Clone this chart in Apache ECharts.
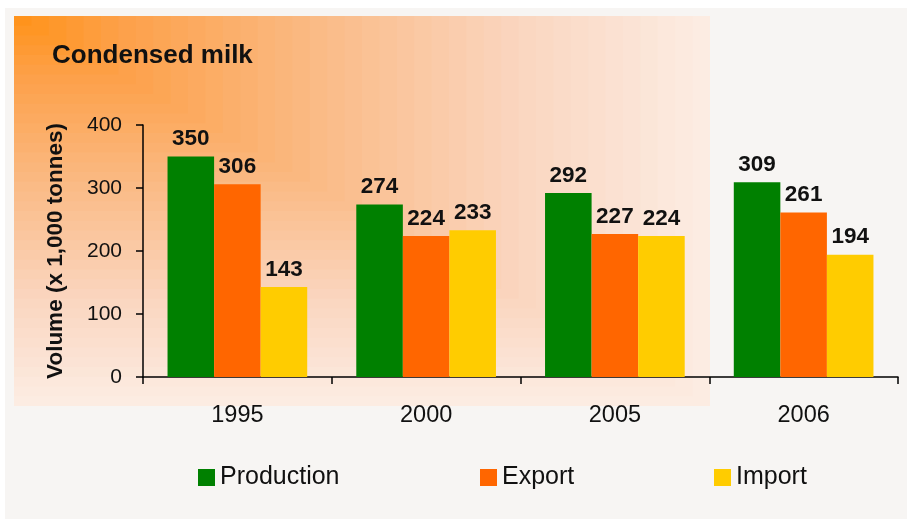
<!DOCTYPE html>
<html><head><meta charset="utf-8">
<script src="https://cdn.jsdelivr.net/npm/echarts@6/dist/echarts.min.js"></script>
<style>html,body{margin:0;padding:0;background:#fff}#c{width:907px;height:519px}</style>
</head><body><div id="c"></div>
<script>
const categories = ['1995', '2000', '2005', '2006'];
const production = [350, 274, 292, 309];
const exportVals = [306, 224, 227, 261];
const importVals = [143, 233, 224, 194];
const yTicks = [0, 100, 200, 300, 400];
const seriesNames = ['Production', 'Export', 'Import'];

const ARIAL = '"Liberation Sans", Arial, sans-serif';

// box-shaped background gradient (decoration)
const stops = [
  [0.00, [255, 146, 24]],
  [0.15, [253, 160, 72]],
  [0.43, [250, 186, 132]],
  [0.73, [250, 214, 192]],
  [1.00, [252, 237, 228]]
];
function colorAt(d) {
  for (let i = 1; i < stops.length; i++) {
    if (d <= stops[i][0]) {
      const a = stops[i - 1], b = stops[i];
      const t = (d - a[0]) / (b[0] - a[0]);
      const c = a[1].map((v, k) => Math.round(v + (b[1][k] - v) * t));
      return 'rgb(' + c.join(',') + ')';
    }
  }
  return 'rgb(' + stops[stops.length - 1][1].join(',') + ')';
}
const graphics = [{
  type: 'rect', shape: { x: 5, y: 8, width: 902, height: 511 },
  style: { fill: '#f7f5f3' }, z: -100, silent: true
}];
const N = 40, X0 = 14, Y0 = 16, W = 696, H = 390;
for (let i = 0; i < N; i++) {
  const d = 1 - i / N;
  graphics.push({
    type: 'rect', shape: { x: X0, y: Y0, width: W * d, height: H * d },
    style: { fill: colorAt(d - 0.5 / N) }, z: -90 + i, silent: true
  });
}

const colors = ['#008000', '#ff6600', '#ffcc00'];
const dataSets = [production, exportVals, importVals];

const chart = echarts.init(document.getElementById('c'), null, { renderer: 'canvas' });
chart.setOption({
  animation: false,
  backgroundColor: '#ffffff',
  graphic: { elements: graphics },
  title: {
    text: 'Condensed milk', left: 47, top: 38,
    textStyle: { fontFamily: ARIAL, fontWeight: 'bold', fontSize: 26, color: '#111' }
  },
  legend: seriesNames.map((n, i) => ({
    data: [n], left: [193, 475, 709][i], top: 460,
    icon: 'rect', itemWidth: 17, itemHeight: 17, itemGap: 0,
    textStyle: { fontFamily: ARIAL, fontSize: 25, color: '#111' },
    selectedMode: false
  })),
  grid: { left: 143, right: 9, top: 125, bottom: 142, containLabel: false },
  xAxis: {
    type: 'category', data: categories,
    axisLine: { lineStyle: { color: '#000', width: 1.5 } },
    axisTick: { show: true, length: 7, lineStyle: { color: '#000', width: 1.5 } },
    axisLabel: { margin: 27, fontFamily: ARIAL, fontSize: 23.5, color: '#111' }
  },
  yAxis: {
    type: 'value', min: yTicks[0], max: yTicks[yTicks.length - 1], interval: yTicks[1] - yTicks[0],
    name: 'Volume (x 1,000 tonnes)', nameLocation: 'middle', nameGap: 76,
    nameTextStyle: { fontFamily: ARIAL, fontWeight: 'bold', fontSize: 22.5, color: '#111' },
    axisLine: { show: true, lineStyle: { color: '#000', width: 1.5 } },
    axisTick: { show: true, length: 7, lineStyle: { color: '#000', width: 1.5 } },
    axisLabel: { margin: 21, fontFamily: ARIAL, fontSize: 21, color: '#111' },
    splitLine: { show: false }
  },
  series: seriesNames.map((n, i) => ({
    name: n, type: 'bar', data: dataSets[i],
    barGap: '0%', barCategoryGap: '26%',
    itemStyle: { color: colors[i] },
    label: {
      show: true, position: 'top', distance: 6,
      fontFamily: ARIAL, fontWeight: 'bold', fontSize: 22.5, color: '#111'
    }
  }))
});
</script>
</body></html>
